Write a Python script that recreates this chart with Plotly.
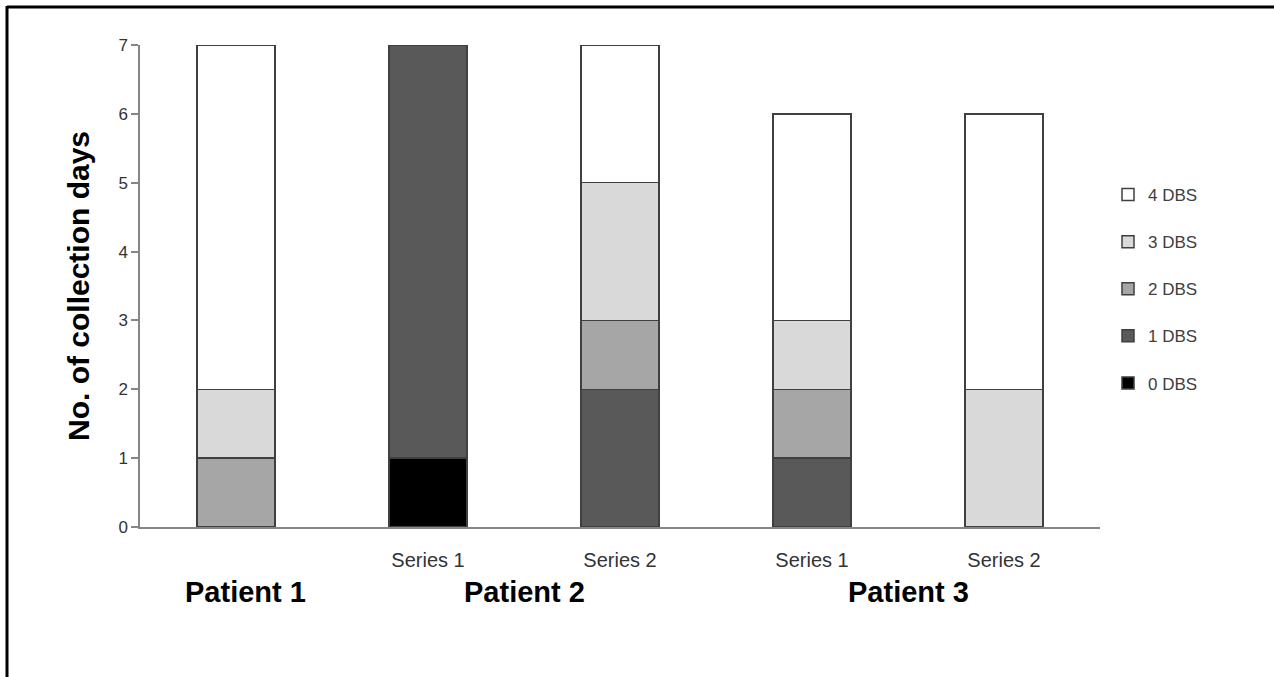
import plotly.graph_objects as go

# ---- data ----
bar_labels = ["", "Series 1", "Series 2", "Series 1", "Series 2"]
patients = ["Patient 1", "Patient 2", "Patient 2", "Patient 3", "Patient 3"]
series_names = ["0 DBS", "1 DBS", "2 DBS", "3 DBS", "4 DBS"]
dbs0 = [0, 1, 0, 0, 0]
dbs1 = [0, 6, 2, 1, 0]
dbs2 = [1, 0, 1, 1, 0]
dbs3 = [1, 0, 2, 1, 2]
dbs4 = [5, 0, 2, 3, 4]
y_ticks = [0, 1, 2, 3, 4, 5, 6, 7]

values = [dbs0, dbs1, dbs2, dbs3, dbs4]
colors = ["#000000", "#595959", "#a6a6a6", "#d9d9d9", "#ffffff"]

xpos = list(range(len(bar_labels)))
FONT = "Liberation Sans"

fig = go.Figure()
n = len(series_names)
for k, (name, vals, col) in enumerate(zip(series_names, values, colors)):
    fig.add_trace(go.Bar(
        x=xpos, y=vals, name=name, legendgroup=name, legendrank=n - k,
        marker=dict(color=col, line=dict(color="#404040", width=1.5)),
    ))

# patient group labels
groups = {}
for i, p in enumerate(patients):
    groups.setdefault(p, []).append(i)
annotations = []
for p, idx in groups.items():
    cx = sum(idx) / len(idx)
    if len(idx) == 1:
        cx += 0.05
    annotations.append(dict(
        x=cx, y=-0.135, xref="x", yref="paper", text="<b>" + p + "</b>", showarrow=False,
        font=dict(family=FONT, size=29, color="#000000"), xanchor="center", yanchor="middle",
    ))

# frame lines (top and left only, as in reference)
W, H = 1274, 677
ml, mr, mt, mb = 140, 174, 45, 150
pw, ph = W - ml - mr, H - mt - mb
def px(x):
    return (x - ml) / pw
def py(y):
    return (H - mb - y) / ph
shapes = [
    dict(type="line", xref="paper", yref="paper", x0=px(7), x1=px(W + 5), y0=py(7), y1=py(7),
         line=dict(color="#000000", width=3)),
    dict(type="line", xref="paper", yref="paper", x0=px(7), x1=px(7), y0=py(6), y1=py(H + 5),
         line=dict(color="#000000", width=3)),
]

fig.update_layout(
    barmode="stack",
    bargap=0.594,
    width=W, height=H,
    margin=dict(l=ml, r=mr, t=mt, b=mb, autoexpand=False),
    paper_bgcolor="white", plot_bgcolor="white",
    font=dict(family=FONT, color="#333333"),
    annotations=annotations,
    shapes=shapes,
    legend=dict(
        x=px(1108), y=py(177), xanchor="left", yanchor="top",
        traceorder="grouped", tracegroupgap=22,
        font=dict(family=FONT, size=17, color="#404040"),
        itemwidth=30,
    ),
    xaxis=dict(
        tickmode="array", tickvals=xpos, ticktext=bar_labels,
        range=[-0.5, len(xpos) - 0.5],
        showline=True, linecolor="#868686", linewidth=1.5,
        ticks="", showgrid=False, zeroline=False, ticklabelstandoff=14,
        tickfont=dict(family=FONT, size=20, color="#333333"),
    ),
    yaxis=dict(
        range=[0, 7], tickvals=y_ticks,
        showline=True, linecolor="#868686", linewidth=1.5,
        ticks="outside", ticklen=7, tickcolor="#868686", tickwidth=1.5,
        showgrid=False, zeroline=False,
        tickfont=dict(family=FONT, size=17, color="#333333"),
        title=dict(text="<b>No. of collection days</b>", standoff=20,
                   font=dict(family=FONT, size=30, color="#000000")),
    ),
)

fig.write_html("out.html", post_script="document.body.style.margin='0';",
               config={"displayModeBar": False})
